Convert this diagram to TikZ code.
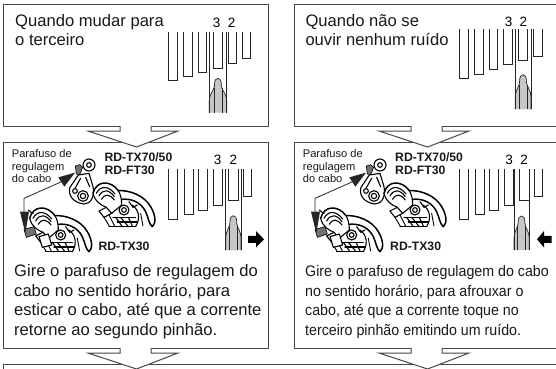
\documentclass[tikz,border=0pt]{standalone}
\usepackage{fontspec}
\setmainfont{Liberation Sans}
\newfontfamily\condfont[FakeStretch=0.93]{Liberation Sans}
\tikzset{
  frame/.style={draw=black!72,line width=1pt,fill=white},
  tooth/.style={draw=black!85,line width=.8pt},
  guide/.style={draw=black!85,line width=.9pt},
  base/.style={anchor=base west,inner sep=0pt,text=black!90},
  big/.style={base,font=\fontsize{16.6}{18}\selectfont},
  cond/.style={base,font=\condfont\fontsize{15.3}{18}\selectfont},
  small/.style={base,font=\fontsize{11.1}{13}\selectfont},
  model/.style={base,font=\bfseries\fontsize{12.2}{14}\selectfont},
  num/.style={anchor=base,inner sep=0pt,text=black,font=\fontsize{13.5}{14}\selectfont},
  ink/.style={draw=black,line width=1.1pt,line join=round,line cap=round},
  thinink/.style={draw=black,line width=.9pt,line cap=round},
}
\newcommand\downarrowbox{%
  \fill[white] (-15.5,-1.2) -- (-15.5,5) -- (-47.5,5) -- (1,21) -- (42.5,5) -- (15.5,5) -- (15.5,-1.2) -- cycle;
  \draw[draw=black!72,line width=1pt,line join=miter] (-15.5,0) -- (-15.5,5) -- (-47.5,5) -- (1,21) -- (42.5,5) -- (15.5,5) -- (15.5,0);
}
\newcommand\utooth[4]{\draw[tooth] (#1,#3) -- (#1,#4) -- (#2,#4) -- (#2,#3);}
\newcommand\chainpart[6]{%
  \fill[black!22] (#4,#3) -- (#4,#2+22) .. controls (#4,#2+16) and (#1-4,#2+12) .. (#1-3.5,#2+8)
     .. controls (#1-3.5,#2+1.5) and (#1-2,#2) .. (#1,#2) .. controls (#1+2,#2) and (#1+3.5,#2+1.5) .. (#1+3.5,#2+8)
     .. controls (#1+4,#2+12) and (#5,#2+16) .. (#5,#2+22) -- (#5,#3) -- cycle;
  \draw[guide,line width=.7pt] (#4,#3) -- (#4,#2+22) .. controls (#4,#2+16) and (#1-4,#2+12) .. (#1-3.5,#2+8)
     .. controls (#1-3.5,#2+1.5) and (#1-2,#2) .. (#1,#2) .. controls (#1+2,#2) and (#1+3.5,#2+1.5) .. (#1+3.5,#2+8)
     .. controls (#1+4,#2+12) and (#5,#2+16) .. (#5,#2+22) -- (#5,#3);
  \draw[guide,line width=.65pt] (#1-4,#2+10) -- (#1-4,#3) (#1+4,#2+10) -- (#1+4,#3);
  \draw[guide] (#4,#6) -- (#4,#3) (#5,#6) -- (#5,#3);
}
\newcommand\dbody{%
  \path[fill=white] (312,190) .. controls (322,150) and (365,150) .. (388,182) .. controls (420,180) and (465,195) .. (485,230)
     .. controls (500,255) and (502,280) .. (490,290) -- (360,290) -- (320,235) -- cycle;
  \draw[ink,line width=1.5pt] (312,190) .. controls (322,150) and (365,150) .. (388,182) .. controls (420,180) and (465,195) .. (485,230)
     .. controls (500,255) and (502,280) .. (490,290) .. controls (480,283) and (478,262) .. (470,245) .. controls (455,215) and (425,205) .. (398,208);
  \draw[ink] (322,190) .. controls (335,165) and (360,168) .. (378,192);
  \draw[ink] (330,198) .. controls (342,176) and (360,178) .. (376,200);
  \draw[ink] (338,208) .. controls (348,190) and (362,192) .. (376,210);
  \draw[ink] (312,190) .. controls (318,215) and (335,225) .. (352,232);
  \draw[ink] (388,182) .. controls (395,195) and (398,205) .. (398,225);
  \draw[ink] (352,232) -- (330,243) -- (345,262) -- (368,250) -- cycle;
  \draw[ink] (368,250) -- (398,225);
  \draw[ink] (405,240) circle[radius=15];
  \draw[ink] (405,240) circle[radius=7];
  \draw[ink] (430,225) .. controls (450,240) and (455,265) .. (440,290);
  \draw[ink] (380,262) -- (400,290) (395,262) -- (418,290) (418,262) -- (430,288);
  \draw[ink] (372,262) -- (440,262) (385,276) -- (445,276);
  \draw[ink] (420,215) -- (432,232) -- (445,225);
  \draw[thinink] (455,250) -- (462,288) (345,262) -- (362,290) (360,255) -- (378,290);
  \draw[ink] (360,290) -- (440,290);
}
\newcommand\dscrew[2]{%
  \draw[ink,fill=black!55,line width=.6pt] (#1-11,#2-10) -- (#1+2,#2-14) -- (#1+11,#2-6) -- (#1+7,#2+4) -- (#1+2,#2+16) -- (#1-8,#2+14) -- cycle;
}
\newcommand\derailleurs{%
  \begin{scope}[shift={(-190,75)}]
    \dbody
  \end{scope}
  \draw[ink,fill=white] (150,320) -- (178,312) -- (188,345) -- (160,352) -- cycle;
  \draw[ink,fill=black!55,line width=.6pt] (105,298) -- (135,290) -- (142,312) -- (112,322) -- cycle;
  \draw[ink] (118,240) .. controls (122,245) and (128,248) .. (133,250);
  \draw[ink,fill=white] (268,135) -- (243,172) .. controls (236,195) and (252,218) .. (285,222)
     .. controls (305,222) and (318,200) .. (312,170) -- (300,130) -- cycle;
  \draw[ink] (275,145) -- (258,175) (290,142) -- (302,170);
  \draw[ink,fill=white] (282,198) circle[radius=16];
  \draw[ink,fill=white] (282,198) circle[radius=8];
  \draw[ink,fill=white] (258,183) circle[radius=7];
  \draw[ink,fill=white] (300,105) circle[radius=18];
  \draw[ink,fill=white] (300,105) circle[radius=7];
  \dscrew{270}{118}
  \dbody
  \coordinate (bend) at (105,205);
  \fill[black!85] (258,128) -- (208,142) -- (226,170) -- cycle;
  \draw[black!85,line width=.8pt] (218,155) -- (bend) -- (105,250);
  \fill[black!85] (93,245) -- (120,245) -- (109,310) -- cycle;
}
\begin{document}
\begin{tikzpicture}[x=1pt,y=-1pt]
\useasboundingbox (0,0) rectangle (556,368);
\clip (0,0) rectangle (556,368);
\fill[white] (0,0) rectangle (556,368);
\draw[frame] (3.5,4.5) rectangle (268,126);
\draw[frame] (294,4.5) rectangle (570,126);
\draw[frame] (3.5,142.5) rectangle (268,348);
\draw[frame] (294,142.5) rectangle (570,348);
\draw[frame] (3.5,364) rectangle (570,380);
\begin{scope}[shift={(135.5,126)}]\downarrowbox\end{scope}
\begin{scope}[shift={(426.5,126)}]\downarrowbox\end{scope}
\begin{scope}[shift={(135.5,348)}]\downarrowbox\end{scope}
\begin{scope}[shift={(426.5,348)}]\downarrowbox\end{scope}
\node[big] (ta) at (15,26.7) {Quando mudar para};
\node[big] (tb) at (15,45) {o terceiro};
\node[big] (tc) at (305.3,26.7) {Quando não se};
\node[big] (td) at (305.3,45) {ouvir nenhum ruído};
\utooth{168.3}{177}{32}{80}
\utooth{183.3}{192.7}{32}{76.3}
\utooth{198.3}{206.7}{32}{72}
\utooth{213.3}{222.3}{32}{68.3}
\utooth{228.3}{236.7}{32}{63.7}
\utooth{242.3}{250.7}{32}{58.3}
\chainpart{217.9}{78.3}{112.7}{209.3}{226.7}{32}
\node[num] (na) at (216.7,27) {3};
\node[num] (nb) at (231.7,27) {2};
\utooth{459.3}{468.7}{29.3}{78.7}
\utooth{474.3}{483.7}{29.3}{74}
\utooth{489.3}{497.7}{29.3}{69.7}
\utooth{503.7}{512.7}{29.3}{64.7}
\utooth{518.3}{527.7}{29.3}{60.3}
\utooth{533.3}{542}{29.3}{56}
\chainpart{523}{74.7}{109.3}{515.3}{531}{29.3}
\node[num] (nc) at (508.7,26) {3};
\node[num] (nd) at (523.3,26) {2};
\utooth{168.3}{177.3}{169.3}{219.3}
\utooth{184}{193.3}{169.3}{214.7}
\utooth{198.3}{207.7}{169.3}{210}
\utooth{213.3}{222.3}{169.3}{205}
\utooth{228.3}{238.3}{169.3}{200.7}
\utooth{243.3}{251.7}{169.3}{196}
\chainpart{233.3}{215.7}{250.3}{225.7}{241}{169.3}
\node[num] (ne) at (217.7,164) {3};
\node[num] (nf) at (233.3,164) {2};
\fill[black] (248,235.8) -- (256,235.8) -- (256,231) -- (264,239.3) -- (256,247.5) -- (256,242.8) -- (248,242.8) -- cycle;
\utooth{459.3}{468.3}{169.3}{219.3}
\utooth{475}{484.3}{169.3}{214.7}
\utooth{489.3}{498.7}{169.3}{210}
\utooth{504.3}{513.3}{169.3}{205}
\utooth{519.3}{529}{169.3}{200.7}
\utooth{534.7}{542.7}{169.3}{196}
\chainpart{521.5}{216}{250}{514}{529.3}{169.3}
\node[num] (ng) at (509,164) {3};
\node[num] (nh) at (524,164) {2};
\fill[black] (551.7,235.8) -- (544,235.8) -- (544,231) -- (537,239.3) -- (544,247.5) -- (544,242.8) -- (551.7,242.8) -- cycle;
\begin{scope}[shift={(-11,130)},x=.3333pt,y=-.3333pt]\derailleurs\end{scope}
\begin{scope}[shift={(280,130)},x=.3333pt,y=-.3333pt]\derailleurs\end{scope}
\node[small] (la) at (11.7,157.3) {Parafuso de};
\node[small] (lb) at (11.7,170) {regulagem};
\node[small] (lc) at (11.7,182) {do cabo};
\node[small] (ld) at (302.7,157.3) {Parafuso de};
\node[small] (le) at (302.7,170) {regulagem};
\node[small] (lf) at (302.7,182) {do cabo};
\node[model] (ma) at (104.3,161.7) {RD-TX70/50};
\node[model] (mb) at (104.3,174.3) {RD-FT30};
\node[model] (mc) at (98.3,250) {RD-TX30};
\node[model] (md) at (395,161.7) {RD-TX70/50};
\node[model] (me) at (395,174.3) {RD-FT30};
\node[model] (mf) at (390,250) {RD-TX30};
\node[big] (pa) at (14,276) {Gire o parafuso de regulagem do};
\node[big] (pb) at (14,296) {cabo no sentido horário, para};
\node[big] (pc) at (14,315.5) {esticar o cabo, até que a corrente};
\node[big] (pd) at (14,335) {retorne ao segundo pinhão.};
\node[cond] (qa) at (305,276) {Gire o parafuso de regulagem do cabo};
\node[cond] (qb) at (305,296) {no sentido horário, para afrouxar o};
\node[cond] (qc) at (305,315.5) {cabo, até que a corrente toque no};
\node[cond] (qd) at (305,335) {terceiro pinhão emitindo um ruído.};
\end{tikzpicture}
\end{document}
